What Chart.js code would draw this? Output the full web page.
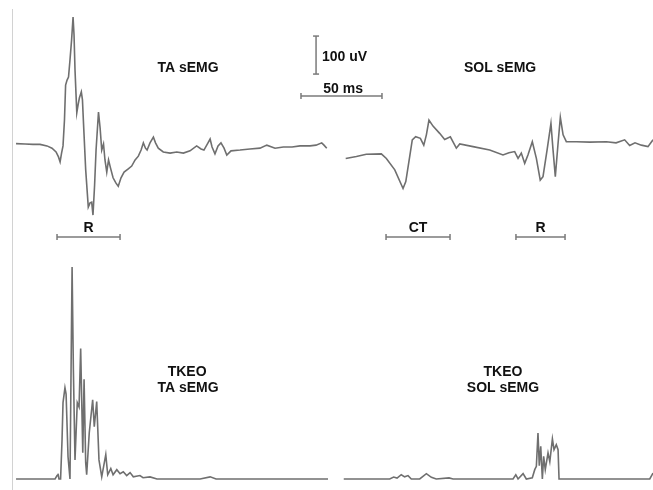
<!DOCTYPE html>
<html>
<head>
<meta charset="utf-8">
<title>TA / SOL sEMG</title>
<script src="https://cdn.jsdelivr.net/npm/chart.js@4.4.1/dist/chart.umd.min.js"></script>
<style>
    html, body { margin: 0; padding: 0; background: #fff; }
    #wrap { position: relative; width: 653px; height: 490px; }
</style>
</head>
<body>
<div id="wrap"><canvas id="emgChart" width="653" height="490"></canvas></div>
<script>
// Raw sEMG, time in ms, amplitude in uV
const taTime = [0, 5.6, 10.5, 14.8, 19.1, 22.2, 24.7, 26.2, 27.2, 28.1, 29.0, 29.9, 30.6, 31.5, 32.4, 33.3, 34.3, 35.2, 35.8, 36.4,
    37.5, 38.3, 39.1, 40.3, 41.0, 41.5, 43.0, 44.6, 45.7, 46.7, 47.5, 48.5, 49.4, 50.9, 51.9, 52.9, 54.0, 54.9, 56.0, 57.1,
    58.3, 59.9, 61.7, 63.1, 64.8, 66.7, 69.1, 71.4, 73.5, 75.5, 77.2, 78.6, 79.9, 80.9, 82.7, 84.8, 86.1, 87.8, 90.9, 95.1,
    99.2, 103.3, 107.4, 111.5, 114.2, 116.0, 118.5, 119.8, 121.0, 122.8, 124.7, 126.5, 128.4, 130.1, 132.7, 138.3, 144.4, 150.6, 154.8, 159.9,
    165.0, 170.4, 175.3, 181.5, 185.2, 188.7, 190.1, 191.8];
const taEmg = [1, 0, -1, -1, -5, -11, -21, -34, -47, -24, -5, 63, 155, 168, 176, 221, 274, 334, 287, 195,
    82, 103, 121, 137, 116, 68, -68, -166, -155, -153, -187, -108, -16, 84, 42, -16, 0, -42, -74, -42,
    -63, -89, -103, -111, -89, -74, -66, -58, -42, -32, -16, 3, -11, -16, 3, 18, 3, -11, -21, -24,
    -21, -24, -18, -5, -13, -16, 3, 13, -8, -26, -5, 3, -11, -29, -18, -16, -13, -11, -3, -11,
    -8, -8, -5, -5, -3, 3, -3, -11];

const solTime = [203.5, 210.1, 216.2, 225.5, 228.6, 233.8, 238.9, 240.6, 243.0, 244.6, 246.7, 249.6, 251.7, 253.3, 254.9, 257.4, 261.5, 264.6, 268.1, 271.8,
    273.9, 282.1, 292.4, 300.6, 304.3, 307.8, 309.9, 311.9, 314.0, 316.0, 318.7, 321.2, 323.6, 325.3, 327.8, 330.2, 331.5, 332.9, 334.6, 336.0,
    337.7, 339.7, 345.9, 354.3, 364.4, 370.4, 375.7, 378.8, 382.1, 386.0, 390.1, 393.2];
const solEmg = [-38, -33, -27, -26, -38, -68, -117, -99, -33, 11, 19, 15, -3, 24, 63, 47, 28, 12, 19, -11,
    0, -7, -16, -29, -23, -20, -38, -24, -51, -29, 6, -38, -95, -86, -16, 54, -16, -86, 2, 70,
    24, 6, 6, 5, 6, 3, 11, -4, 3, -3, -7, 11];

// TKEO output, arbitrary units
const tkeoTaTime = [0, 24.1, 25.3, 25.9, 26.5, 27.5, 28.4, 29.0, 30.2, 30.9, 32.1, 33.3, 34.6, 35.4, 36.4, 37.8, 38.9, 39.9, 41.2, 42.0,
    43.0, 43.6, 45.2, 47.3, 48.3, 49.8, 51.2, 52.9, 55.4, 56.6, 58.5, 59.9, 62.2, 64.2, 66.2, 68.3, 70.4, 72.4, 76.5, 78.4,
    82.7, 87.0, 113.6, 119.8, 123.5, 133.3, 192.6];
const tkeoTa = [0, 0, 1.6, 2.5, 0, 0, 18.5, 36, 43, 40, 10.5, 0, 100, 51.6, 9, 36, 34, 61.5, 12.4, 47,
    7.7, 2, 21.8, 37.4, 24.7, 36.5, 9, 1, 11.5, 2, 4.9, 2, 4.4, 2.5, 3.4, 1.6, 3, 1, 1.6, 0.6,
    1, 0, 0, 1, 0, 0, 0];

const tkeoSolTime = [202.3, 230.7, 233.1, 235.2, 237.8, 239.9, 242.0, 244.0, 249.2, 253.3, 256.4, 259.4, 267.3, 269.8, 306.8, 308.5, 309.9, 313.0, 315.0, 318.7,
    320.2, 321.2, 322.2, 323.0, 323.9, 324.9, 325.7, 326.7, 328.4, 329.5, 331.1, 332.1, 333.5, 334.6, 335.2, 391.2, 393.2];
const tkeoSol = [0, 0, 0.9, 0.4, 2, 1, 1.6, 0, 0, 2.5, 0.8, 0, 0.5, 0, 0, 2, 0, 2.5, 0, 0.6,
    4.4, 6, 21.7, 6.3, 15.4, 0, 10.7, 4.4, 12.3, 8.2, 18.9, 13.8, 16.2, 13.8, 0, 0, 2.8];

// Response windows (ms) and scale bars
const windowNames = ['R', 'CT', 'R'];
const windowStart = [25.3, 228.4, 308.6];
const windowEnd = [64.2, 267.9, 338.9];
const scaleTime = 50;   // ms
const scaleAmp = 100;   // uV

const TRACE = '#6f6f6f';
const MARK = '#7a7a7a';

function toPoints(xs, ys) {
    return xs.map((x, i) => ({ x: x, y: ys[i] }));
}

function traceSet(xs, ys, axis) {
    return {
        data: toPoints(xs, ys),
        yAxisID: axis,
        borderColor: TRACE,
        borderWidth: 1.6,
        pointRadius: 0,
        tension: 0
    };
}

// horizontal bar with vertical end caps
function hBar(x0, x1, y) {
    return {
        data: [{ x: x0, y: y }, { x: x1, y: y }],
        yAxisID: 'y',
        borderColor: MARK,
        borderWidth: 1.5,
        pointStyle: 'line',
        pointRotation: 90,
        pointRadius: 3,
        pointBorderColor: MARK,
        pointBorderWidth: 1.5
    };
}

const barLevel = -245;
const datasets = [
    traceSet(taTime, taEmg, 'y'),
    traceSet(solTime, solEmg, 'y'),
    traceSet(tkeoTaTime, tkeoTa, 'y2'),
    traceSet(tkeoSolTime, tkeoSol, 'y2')
];
windowNames.forEach((n, i) => datasets.push(hBar(windowStart[i], windowEnd[i], barLevel)));

// 50 ms bar
datasets.push(hBar(175.9, 175.9 + scaleTime, 126));
// 100 uV bar, caps horizontal
datasets.push({
    data: [{ x: 185.2, y: 184 }, { x: 185.2, y: 184 + scaleAmp }],
    yAxisID: 'y',
    borderColor: MARK,
    borderWidth: 1.5,
    pointStyle: 'line',
    pointRotation: 0,
    pointRadius: 3,
    pointBorderColor: MARK,
    pointBorderWidth: 1.5
});

// Text labels and the thin frame line on the left
const textPlugin = {
    id: 'emgText',
    afterDatasetsDraw(chart) {
        const ctx = chart.ctx;
        const xs = chart.scales.x, ys = chart.scales.y, y2 = chart.scales.y2;
        ctx.save();

        ctx.strokeStyle = '#d2d2d2';
        ctx.lineWidth = 1;
        ctx.beginPath();
        ctx.moveTo(12.5, 9);
        ctx.lineTo(12.5, 490);
        ctx.stroke();

        ctx.fillStyle = '#111';
        ctx.font = 'bold 14px "Liberation Sans", Arial, sans-serif';
        ctx.textBaseline = 'middle';
        ctx.textAlign = 'center';

        const put = (txt, t, v, scale) => ctx.fillText(txt, xs.getPixelForValue(t), scale.getPixelForValue(v));

        put('TA sEMG', 106.2, 200, ys);
        put('SOL sEMG', 298.8, 200, ys);
        put('50 ms', 201.9, 145, ys);
        windowNames.forEach((n, i) => put(n, (windowStart[i] + windowEnd[i]) / 2, -221, ys));

        put('TKEO', 105.6, 50.6, y2);
        put('TA sEMG', 106.2, 43, y2);
        put('TKEO', 300.6, 50.6, y2);
        put('SOL sEMG', 300.6, 43, y2);

        ctx.textAlign = 'left';
        put('100 uV', 188.9, 229, ys);
        ctx.restore();
    }
};

new Chart(document.getElementById('emgChart').getContext('2d'), {
    type: 'line',
    data: { datasets: datasets },
    options: {
        responsive: false,
        animation: false,
        devicePixelRatio: 1,
        layout: { padding: 0, autoPadding: false },
        spanGaps: false,
        plugins: {
            legend: { display: false },
            tooltip: { enabled: false }
        },
        scales: {
            x: { type: 'linear', min: -9.9, max: 393.2, display: false },
            y: { min: -910.5, max: 378.9, display: false },
            y2: { min: -5.2, max: 226, display: false }
        }
    },
    plugins: [textPlugin]
});
</script>
</body>
</html>
